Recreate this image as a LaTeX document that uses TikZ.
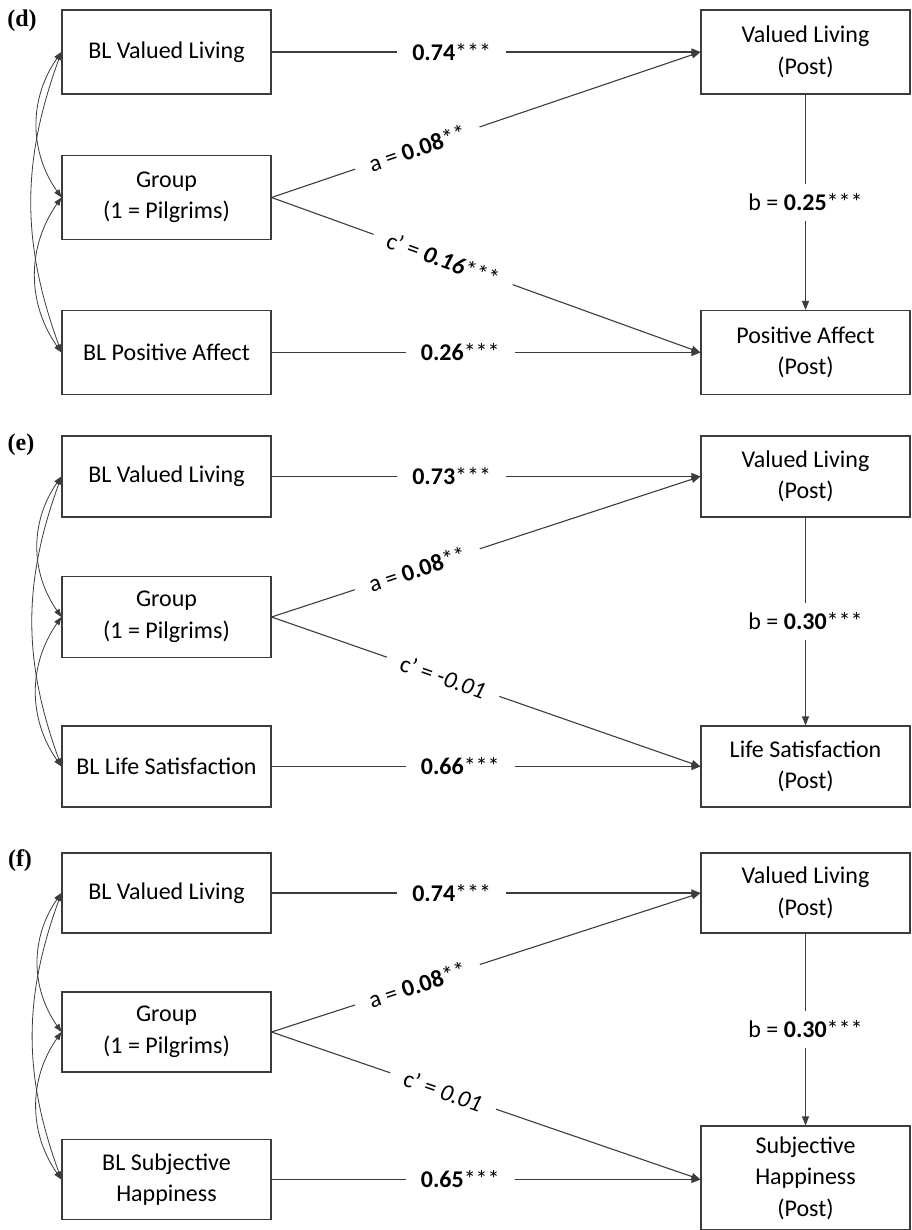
\documentclass[tikz,border=0pt]{standalone}
\usepackage{fontspec}
\setmainfont{Carlito}
\newfontfamily\panelfont{Liberation Serif}
\usepackage{tikz}
\usetikzlibrary{arrows.meta, positioning, calc}
\definecolor{line1}{RGB}{60, 60, 60}

\tikzset{
  varbox/.style={draw=line1, line width=1.1pt, minimum width=209pt, minimum height=84pt, align=center, inner sep=2pt},
  patharrow/.style={draw=line1, line width=1.1pt, -{Triangle[length=9pt, width=7pt]}},
  covarrow/.style={draw=line1, line width=0.8pt, {Triangle[length=8pt, width=6pt]}-{Triangle[length=8pt, width=6pt]}},
  coefflab/.style={fill=white, inner xsep=15pt, inner ysep=2pt},
  blab/.style={fill=white, inner xsep=4pt, inner ysep=10pt},
  panellab/.style={font=\fontsize{24}{28}\selectfont\panelfont\bfseries}
}

\begin{document}
\begin{tikzpicture}[x=1pt, y=-1pt, font=\fontsize{24}{31.5}\selectfont]
  \useasboundingbox (0,0) rectangle (911,1230);

  % panel (d)
  \node[panellab] (d-lab) at (22,21) {(d)};
  \node[varbox] (d-bvl) at (166.5,52) {BL Valued Living};
  \node[varbox] (d-grp) at (166.5,197.5) {Group\\(1 = Pilgrims)};
  \node[varbox] (d-bpa) at (166.5,352.5) {BL Positive Affect};
  \node[varbox] (d-vlp) at (805.5,52) {Valued Living\\(Post)};
  \node[varbox] (d-pap) at (805.5,352.5) {Positive Affect\\(Post)};

  \draw[patharrow] (d-bvl.east) -- node[coefflab, pos=0.42] {\textbf{0.74}***} (d-vlp.west);
  \draw[patharrow] (d-grp.east) -- node[coefflab, sloped, pos=0.34] {a = \textbf{0.08}**} (d-vlp.west);
  \draw[patharrow] (d-grp.east) -- node[coefflab, sloped, pos=0.40] {c’ = \textbf{\textit{0.16}}***} (d-pap.west);
  \draw[patharrow] (d-bpa.east) -- node[coefflab, pos=0.44] {\textbf{0.26}***} (d-pap.west);
  \draw[patharrow] (d-vlp.south) -- node[blab] {b = \textbf{0.25}***} (d-pap.north);
  \draw[covarrow] (d-bvl.west) to[bend right=35] (d-grp.west);
  \draw[covarrow] (d-grp.west) to[bend right=35] (d-bpa.west);
  \draw[covarrow] (d-bvl.west) to[bend right=20] (d-bpa.west);

  % panel (e)
  \node[panellab] (e-lab) at (21,445) {(e)};
  \node[varbox, minimum height=81pt] (e-bvl) at (166.5,476.5) {BL Valued Living};
  \node[varbox, minimum height=81pt] (e-grp) at (166.5,617) {Group\\(1 = Pilgrims)};
  \node[varbox, minimum height=81pt] (e-bls) at (166.5,766.5) {BL Life Satisfaction};
  \node[varbox, minimum height=81pt] (e-vlp) at (805.5,476.5) {Valued Living\\(Post)};
  \node[varbox, minimum height=81pt] (e-lsp) at (805.5,766.5) {Life Satisfaction\\(Post)};

  \draw[patharrow] (e-bvl.east) -- node[coefflab, pos=0.42] {\textbf{0.73}***} (e-vlp.west);
  \draw[patharrow] (e-grp.east) -- node[coefflab, sloped, pos=0.34] {a = \textbf{0.08}**} (e-vlp.west);
  \draw[patharrow] (e-grp.east) -- node[coefflab, sloped, pos=0.40] {c’ = \textit{-0.01}} (e-lsp.west);
  \draw[patharrow] (e-bls.east) -- node[coefflab, pos=0.44] {\textbf{0.66}***} (e-lsp.west);
  \draw[patharrow] (e-vlp.south) -- node[blab] {b = \textbf{0.30}***} (e-lsp.north);
  \draw[covarrow] (e-bvl.west) to[bend right=35] (e-grp.west);
  \draw[covarrow] (e-grp.west) to[bend right=35] (e-bls.west);
  \draw[covarrow] (e-bvl.west) to[bend right=20] (e-bls.west);

  % panel (f)
  \node[panellab] (f-lab) at (20,861) {(f)};
  \node[varbox, minimum height=80pt] (f-bvl) at (166.5,893) {BL Valued Living};
  \node[varbox, minimum height=80pt] (f-grp) at (166.5,1032) {Group\\(1 = Pilgrims)};
  \node[varbox, minimum height=80pt] (f-bsh) at (166.5,1179.5) {BL Subjective\\Happiness};
  \node[varbox, minimum height=80pt] (f-vlp) at (805.5,893) {Valued Living\\(Post)};
  \node[varbox, minimum height=104pt] (f-shp) at (805.5,1178) {Subjective\\Happiness\\(Post)};
  \coordinate (f-in) at (f-bsh.east -| f-shp.west);

  \draw[patharrow] (f-bvl.east) -- node[coefflab, pos=0.42] {\textbf{0.74}***} (f-vlp.west);
  \draw[patharrow] (f-grp.east) -- node[coefflab, sloped, pos=0.34] {a = \textbf{0.08}**} (f-vlp.west);
  \draw[patharrow] (f-grp.east) -- node[coefflab, sloped, pos=0.40] {c’ = \textit{0.01}} (f-in);
  \draw[patharrow] (f-bsh.east) -- node[coefflab, pos=0.44] {\textbf{0.65}***} (f-in);
  \draw[patharrow] (f-vlp.south) -- node[blab] {b = \textbf{0.30}***} (f-shp.north);
  \draw[covarrow] (f-bvl.west) to[bend right=35] (f-grp.west);
  \draw[covarrow] (f-grp.west) to[bend right=35] (f-bsh.west);
  \draw[covarrow] (f-bvl.west) to[bend right=20] (f-bsh.west);
\end{tikzpicture}
\end{document}
